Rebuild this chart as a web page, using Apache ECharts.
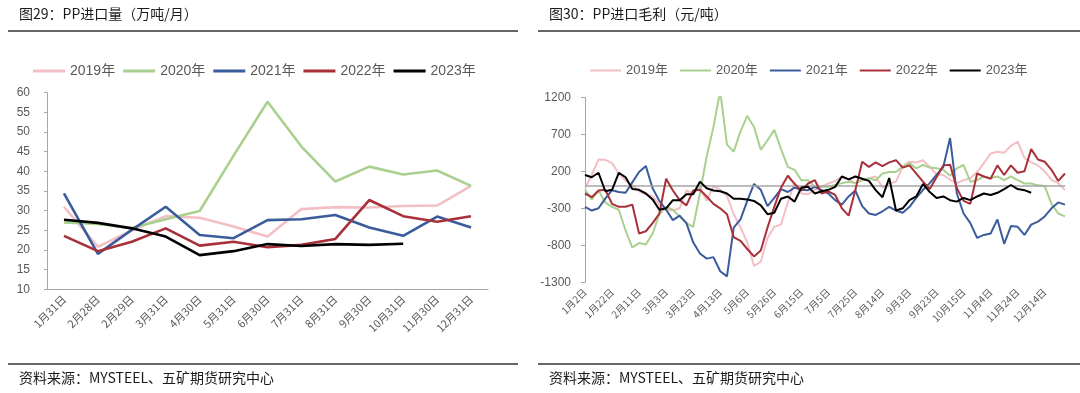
<!DOCTYPE html>
<html><head><meta charset="utf-8">
<script src="https://cdn.jsdelivr.net/npm/echarts@6/dist/echarts.min.js"></script>
<style>html,body{margin:0;padding:0;background:#fff}#c{width:1080px;height:393px}</style>
</head><body><div id="c"></div>
<script>
// ---------- Left chart: PP import volume (万吨/月) ----------
const monthCats = ['1月31日','2月28日','2月29日','3月31日','4月30日','5月31日','6月30日','7月31日','8月31日','9月30日','10月31日','11月30日','12月31日'];
const vol2019 = [31, 20.8, 25, 28.6, 28.2, 26, 23.4, 30.4, 30.9, 30.8, 31.2, 31.3, 36.3];
const vol2020 = [27, 26.6, 25.6, 27.8, 29.9, 44, 57.7, 46.3, 37.4, 41.2, 39.2, 40.2, 36.3];
const vol2021 = [34.4, 19, 25.1, 31, 23.8, 23, 27.6, 27.8, 28.9, 25.7, 23.6, 28.5, 25.7];
const vol2022 = [23.6, 19.7, 22.1, 25.5, 21.1, 22.1, 20.7, 21.3, 22.8, 32.7, 28.6, 27.2, 28.6];
const vol2023 = [27.7, 26.9, 25.5, 23.4, 18.7, 19.7, 21.5, 21, 21.5, 21.3, 21.6, null, null];

// ---------- Right chart: PP import gross margin (元/吨) ----------
const dayCats = ['1月2日','1月7日','1月12日','1月17日','1月22日','1月27日','2月1日','2月6日','2月11日','2月16日','2月21日','2月26日',
 '3月3日','3月8日','3月13日','3月18日','3月23日','3月28日','4月2日','4月8日','4月13日','4月18日','4月23日','4月28日',
 '5月6日','5月11日','5月16日','5月21日','5月26日','5月31日','6月5日','6月10日','6月15日','6月20日','6月25日','6月30日',
 '7月5日','7月10日','7月15日','7月20日','7月25日','7月30日','8月4日','8月9日','8月14日','8月19日','8月24日','8月29日',
 '9月3日','9月8日','9月13日','9月18日','9月23日','9月28日','10月5日','10月10日','10月15日','10月20日','10月25日','10月30日',
 '11月4日','11月9日','11月14日','11月19日','11月24日','11月29日','12月4日','12月9日','12月14日','12月19日','12月24日','12月29日'];
const mgn2019 = [-30,150,360,355,310,170,75,10,-70,-110,-140,-250,-320,-330,-300,-60,-100,-20,-200,0,-50,-130,-380,-560,
 -760,-1080,-1020,-700,-550,-520,-220,50,-100,-110,-50,-10,35,70,130,90,40,80,105,130,-20,35,60,265,
 330,320,350,260,160,150,85,40,80,105,190,310,440,465,450,545,600,380,320,280,200,85,40,-55];
const mgn2020 = [-50,-180,-60,-220,-280,-320,-600,-830,-770,-790,-640,-380,-280,-320,-410,-500,-550,-100,400,800,1290,560,465,740,
 950,800,490,620,760,500,260,220,80,80,-10,-10,-10,15,40,60,40,80,105,80,170,190,190,265,
 310,240,285,250,240,220,140,240,285,60,80,130,105,130,80,130,80,35,35,10,0,-240,-370,-410];
const mgn2021 = [-280,-330,-300,-170,-55,-80,-90,50,190,270,-30,-200,-320,-460,-400,-500,-760,-910,-980,-960,-1150,-1220,-560,-450,
 -200,30,-50,-270,-160,-40,-80,-20,-50,-55,-10,-55,-100,-190,-250,-140,-60,-270,-370,-390,-340,-280,-330,-360,
 -280,-160,-50,40,150,260,650,-100,-370,-500,-700,-660,-640,-450,-780,-540,-550,-660,-520,-480,-410,-300,-220,-250];
const mgn2022 = [-100,-150,-60,-50,-240,-280,-280,-250,-640,-610,-500,-370,100,-60,-190,-260,-60,-50,-140,-240,-300,-380,-690,-740,
 -850,-950,-870,-560,-280,-20,140,30,-60,35,80,-100,-70,-120,-300,-400,-50,330,260,320,270,320,350,250,
 280,170,60,-40,120,280,290,-30,-200,-240,170,130,100,280,150,280,180,200,500,360,330,220,70,170];
const mgn2023 = [150,120,180,-70,-50,180,120,-40,-50,-100,-180,-320,-300,-190,-190,-110,-110,60,-30,-60,-70,-100,-170,-170,
 -180,-200,-260,-380,-360,-170,-140,-210,-20,-10,-100,-70,-50,-10,130,90,130,100,70,-55,-150,110,-330,-300,
 -190,-140,30,-80,-160,-140,-190,-210,-160,-190,-140,-100,-120,-90,-40,15,-40,-55,-90,null,null,null,null,null];

const yearNames = ['2019年','2020年','2021年','2022年','2023年'];
const yearColors = ['#F4BFC4','#A9D08E','#3B5C9C','#A8303A','#000000'];

const NUM = "'Liberation Sans', 'Noto Sans CJK SC', sans-serif";
const CJK = "'Noto Sans CJK SC', sans-serif";
const GREY = '#595959';

const volData = [vol2019, vol2020, vol2021, vol2022, vol2023];
const mgnData = [mgn2019, mgn2020, mgn2021, mgn2022, mgn2023];

const series = [];
volData.forEach((d, i) => series.push({
  name: yearNames[i], type: 'line', xAxisIndex: 0, yAxisIndex: 0, data: d,
  symbol: 'none', lineStyle: {width: 2.6, color: yearColors[i]}, itemStyle: {color: yearColors[i]},
  z: 2 + i, animation: false
}));
mgnData.forEach((d, i) => {
  const s = {
    name: yearNames[i], type: 'line', xAxisIndex: 1, yAxisIndex: 1, data: d,
    symbol: 'none', lineStyle: {width: 2, color: yearColors[i]}, itemStyle: {color: yearColors[i]},
    z: 2 + i, animation: false
  };
  if (i === 0) {
    s.markLine = {silent: true, symbol: 'none', label: {show: false},
      lineStyle: {color: '#A6A6A6', width: 1.5, type: 'solid'}, data: [{yAxis: 0}], animation: false};
  }
  series.push(s);
});

const chart = echarts.init(document.getElementById('c'), null, {renderer: 'canvas'});
chart.setOption({
  animation: false,
  backgroundColor: '#fff',
  grid: [
    {left: 47, right: 592, top: 92.7, bottom: 103.7},
    {left: 585, right: 15, top: 97.3, bottom: 110.7}
  ],
  legend: [
    {left: 33, top: 64, padding: 0, icon: 'rect', itemWidth: 32, itemHeight: 3, itemGap: 8, data: yearNames,
     textStyle: {fontFamily: NUM, fontSize: 14, color: GREY}, selectedMode: false},
    {left: 590, top: 64, padding: 0, icon: 'rect', itemWidth: 31, itemHeight: 2, itemGap: 12, data: yearNames,
     textStyle: {fontFamily: NUM, fontSize: 13, color: GREY}, selectedMode: false}
  ],
  xAxis: [
    {type: 'category', gridIndex: 0, data: monthCats, boundaryGap: true,
     axisLine: {lineStyle: {color: '#A6A6A6', width: 1}}, axisTick: {show: false},
     axisLabel: {interval: 0, rotate: 45, fontSize: 11, color: GREY, fontFamily: CJK, margin: 8}},
    {type: 'category', gridIndex: 1, data: dayCats, boundaryGap: false,
     axisLine: {show: false}, axisTick: {show: false},
     axisLabel: {interval: 3, rotate: 45, fontSize: 10, color: GREY, fontFamily: CJK, margin: 8}}
  ],
  yAxis: [
    {type: 'value', gridIndex: 0, min: 10, max: 60, interval: 5,
     axisLine: {show: true, lineStyle: {color: '#A6A6A6'}}, axisTick: {show: true, length: 3, lineStyle: {color: '#A6A6A6'}},
     splitLine: {show: false}, axisLabel: {fontSize: 12, color: GREY, fontFamily: NUM, margin: 17}},
    {type: 'value', gridIndex: 1, min: -1300, max: 1200, interval: 500,
     axisLine: {show: true, lineStyle: {color: '#A6A6A6'}}, axisTick: {show: true, length: 4, lineStyle: {color: '#A6A6A6'}},
     splitLine: {show: false}, axisLabel: {fontSize: 12, color: GREY, fontFamily: NUM, margin: 14, formatter: v => String(v)}}
  ],
  series: series,
  graphic: [
    {type: 'text', left: 19, top: 7, style: {text: '图29：PP进口量（万吨/月）', fontSize: 14, fontFamily: CJK, fill: '#1a1a1a'}},
    {type: 'text', left: 549, top: 7, style: {text: '图30：PP进口毛利（元/吨）', fontSize: 14, fontFamily: CJK, fill: '#1a1a1a'}},
    {type: 'line', shape: {x1: 8, y1: 31, x2: 518, y2: 31}, style: {stroke: '#333', lineWidth: 1.5}},
    {type: 'line', shape: {x1: 538, y1: 31, x2: 1080, y2: 31}, style: {stroke: '#333', lineWidth: 1.5}},
    {type: 'line', shape: {x1: 8, y1: 364, x2: 518, y2: 364}, style: {stroke: '#333', lineWidth: 1.5}},
    {type: 'line', shape: {x1: 538, y1: 364, x2: 1080, y2: 364}, style: {stroke: '#333', lineWidth: 1.5}},
    {type: 'text', left: 19, top: 371, style: {text: '资料来源：MYSTEEL、五矿期货研究中心', fontSize: 14, fontFamily: CJK, fill: '#1a1a1a'}},
    {type: 'text', left: 549, top: 371, style: {text: '资料来源：MYSTEEL、五矿期货研究中心', fontSize: 14, fontFamily: CJK, fill: '#1a1a1a'}}
  ]
});
</script></body></html>
